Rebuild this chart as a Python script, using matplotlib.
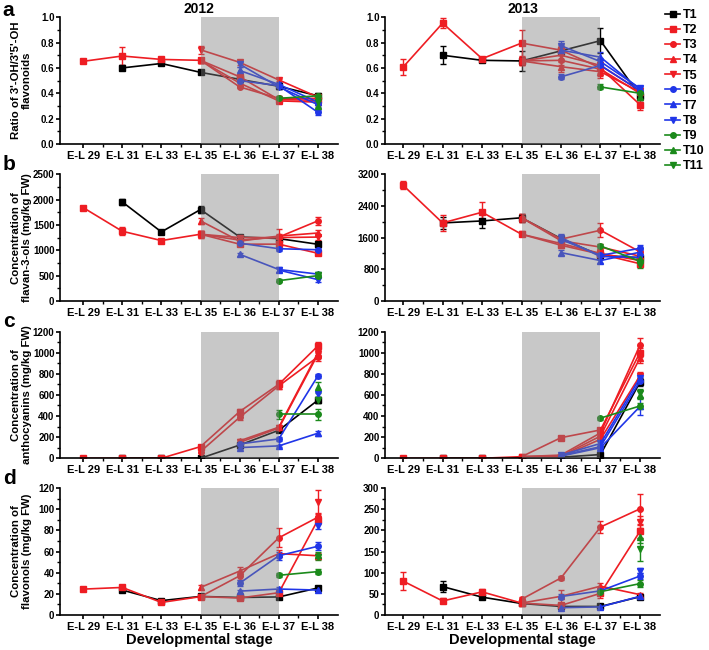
'''Flavonoid composition across developmental stages, 2012 and 2013 seasons'''

import numpy as np
import matplotlib.pyplot as plt
from matplotlib.ticker import MultipleLocator, FormatStrFormatter

plt.rcParams['font.family'] = ['Liberation Sans', 'DejaVu Sans']
plt.rcParams['font.weight'] = 'bold'

N = None
STAGES = ['E-L 29', 'E-L 31', 'E-L 33', 'E-L 35', 'E-L 36', 'E-L 37', 'E-L 38']
TREATMENTS = ['T1', 'T2', 'T3', 'T4', 'T5', 'T6', 'T7', 'T8', 'T9', 'T10', 'T11']
COLORS = ['#000000'] + ['#EE1D23'] * 4 + ['#2036E8'] * 3 + ['#1B8A1B'] * 3
MARKERS = ['s', 's', 'o', '^', 'v', 'o', '^', 'v', 'o', '^', 'v']

# a: ratio of 3'-OH / 3'5'-OH flavonoids
A_2012 = [
    [N, .60, .635, .565, .51, .455, .38],
    [.652, .694, .667, .66, .53, .35, .345],
    [N, N, N, .66, .45, .36, .36],
    [N, N, N, .66, .48, .34, .33],
    [N, N, N, .743, .644, .505, .37],
    [N, N, N, N, .50, .46, .25],
    [N, N, N, N, .58, .47, .33],
    [N, N, N, N, .63, .45, .31],
    [N, N, N, N, N, .36, .38],
    [N, N, N, N, N, N, .30],
    [N, N, N, N, N, N, .33],
]
A_2012_ERR = [
    [N, .02, .01, .01, .02, .02, .01],
    [.01, .07, .015, .02, .02, .02, .02],
    [N, N, N, .02, .01, .02, .02],
    [N, N, N, .02, .02, .02, .02],
    [N, N, N, .03, .02, .01, .02],
    [N, N, N, N, .02, .02, .02],
    [N, N, N, N, .03, .02, .02],
    [N, N, N, N, .02, .02, .02],
    [N, N, N, N, N, .02, .02],
    [N, N, N, N, N, N, .02],
    [N, N, N, N, N, N, .02],
]
A_2013 = [
    [N, .70, .66, .655, .735, .815, .38],
    [.607, .953, .673, .796, .74, .60, .31],
    [N, N, N, .655, .66, .59, .40],
    [N, N, N, .655, .61, .57, .41],
    [N, N, N, .655, .70, .62, .42],
    [N, N, N, N, .53, .62, .42],
    [N, N, N, N, .74, .685, .43],
    [N, N, N, N, .775, .65, .44],
    [N, N, N, N, N, .45, .40],
    [N, N, N, N, N, N, .37],
    [N, N, N, N, N, N, .39],
]
A_2013_ERR = [
    [N, .07, .015, .08, .03, .10, .03],
    [.06, .04, .015, .10, .03, .04, .04],
    [N, N, N, .03, .04, .05, .02],
    [N, N, N, .03, .04, .05, .02],
    [N, N, N, .03, .04, .03, .02],
    [N, N, N, N, .02, .03, .02],
    [N, N, N, N, .04, .04, .02],
    [N, N, N, N, .04, .03, .02],
    [N, N, N, N, N, .02, .02],
    [N, N, N, N, N, N, .02],
    [N, N, N, N, N, N, .02],
]

# b: flavan-3-ols (mg/kg FW)
B_2012 = [
    [N, 1954, 1362, 1803, 1263, 1230, 1118],
    [1842, 1375, 1191, 1316, 1120, 1120, 940],
    [N, N, N, 1316, 1200, 1260, 1580],
    [N, N, N, 1579, 1180, 1280, 1340],
    [N, N, N, 1316, 1250, 1250, 1260],
    [N, N, N, N, 1140, 1030, 1010],
    [N, N, N, N, 920, 620, 530],
    [N, N, N, N, N, 610, 420],
    [N, N, N, N, N, 400, 500],
    [N, N, N, N, N, N, 540],
    [N, N, N, N, N, N, 520],
]
B_2012_ERR = [
    [N, 60, 40, 60, 40, 50, 50],
    [40, 80, 40, 70, 40, 40, 40],
    [N, N, N, 70, 50, 60, 80],
    [N, N, N, 60, 50, 130, 50],
    [N, N, N, 60, 50, 60, 50],
    [N, N, N, N, 40, 50, 40],
    [N, N, N, N, 30, 50, 40],
    [N, N, N, N, N, 40, 50],
    [N, N, N, N, N, 30, 40],
    [N, N, N, N, N, N, 40],
    [N, N, N, N, N, N, 40],
]
B_2013 = [
    [N, 1970, 2020, 2100, 1575, 1150, 1090],
    [2920, 1970, 2240, 1684, 1406, 1180, 940],
    [N, N, N, 2100, 1560, 1785, 1240],
    [N, N, N, 2100, 1520, 1360, 1130],
    [N, N, N, 1684, 1450, 1200, 1020],
    [N, N, N, N, 1550, 1150, 1330],
    [N, N, N, N, 1220, 1020, 1230],
    [N, N, N, N, 1600, 1120, 1100],
    [N, N, N, N, N, 1390, 1000],
    [N, N, N, N, N, N, 1050],
    [N, N, N, N, N, N, 900],
]
B_2013_ERR = [
    [N, 150, 190, 100, 80, 80, 60],
    [100, 200, 270, 30, 60, 60, 60],
    [N, N, N, 100, 80, 180, 60],
    [N, N, N, 100, 60, 80, 60],
    [N, N, N, 40, 60, 60, 60],
    [N, N, N, N, 80, 60, 80],
    [N, N, N, N, 60, 60, 60],
    [N, N, N, N, 80, 60, 60],
    [N, N, N, N, N, 60, 80],
    [N, N, N, N, N, N, 60],
    [N, N, N, N, N, N, 80],
]

# c: anthocyanins (mg/kg FW)
C_2012 = [
    [N, 0, 0, 0, 125, 265, 550],
    [0, 0, 0, 110, 442, 700, 1064],
    [N, N, N, 63, 388, 685, 960],
    [N, N, N, N, 165, 294, 1000],
    [N, N, N, N, 150, 285, 985],
    [N, N, N, N, 136, 183, 780],
    [N, N, N, N, 101, 117, 237],
    [N, N, N, N, N, N, 610],
    [N, N, N, N, N, 415, 415],
    [N, N, N, N, N, N, 670],
    [N, N, N, N, N, N, 550],
]
C_2012_ERR = [
    [N, 0, 0, 0, 10, 15, 30],
    [0, 0, 0, 20, 25, 40, 40],
    [N, N, N, 15, 25, 25, 40],
    [N, N, N, N, 15, 20, 40],
    [N, N, N, N, 15, 20, 40],
    [N, N, N, N, 10, 15, 20],
    [N, N, N, N, 15, 10, 25],
    [N, N, N, N, N, N, 30],
    [N, N, N, N, N, 40, 50],
    [N, N, N, N, N, N, 50],
    [N, N, N, N, N, N, 30],
]
C_2013 = [
    [N, 0, 0, 5, 10, 35, 720],
    [0, 0, 0, 15, 195, 268, 1000],
    [N, N, N, 15, 30, 240, 1070],
    [N, N, N, 15, 20, 210, 950],
    [N, N, N, 15, 15, 180, 780],
    [N, N, N, N, 25, 110, 730],
    [N, N, N, N, 20, 100, 490],
    [N, N, N, N, 30, 140, 760],
    [N, N, N, N, N, 380, 495],
    [N, N, N, N, N, N, 600],
    [N, N, N, N, N, N, 620],
]
C_2013_ERR = [
    [N, 0, 0, 2, 3, 5, 40],
    [0, 0, 0, 3, 10, 20, 40],
    [N, N, N, 3, 5, 20, 70],
    [N, N, N, 3, 5, 20, 50],
    [N, N, N, 3, 5, 20, 40],
    [N, N, N, N, 5, 20, 40],
    [N, N, N, N, 5, 20, 80],
    [N, N, N, N, 5, 20, 40],
    [N, N, N, N, N, 15, 30],
    [N, N, N, N, N, N, 40],
    [N, N, N, N, N, N, 40],
]

# d: flavonols (mg/kg FW)
D_2012 = [
    [N, 23.5, 13.5, 17.5, 16.5, 17, 25.5],
    [24.4, 26, 11.8, 17.3, 16, 21, 90],
    [N, N, N, 17.3, 37, 73, 92.5],
    [N, N, N, 26, 41.5, 58, 56],
    [N, N, N, N, N, N, 107],
    [N, N, N, N, 30, 56, 65],
    [N, N, N, N, 22.5, 24.5, 23.5],
    [N, N, N, N, N, N, 84.5],
    [N, N, N, N, N, 37.5, 41],
    [N, N, N, N, N, N, 57],
    [N, N, N, N, N, N, 55],
]
D_2012_ERR = [
    [N, 1.5, 1.5, 1, 1.5, 2, 1.5],
    [2, 1, 1, 1, 2, 2, 4],
    [N, N, N, 1, 4, 9, 4],
    [N, N, N, 2, 4, 3, 3],
    [N, N, N, N, N, N, 11],
    [N, N, N, N, 3, 4, 4],
    [N, N, N, N, 1.5, 1.5, 1.5],
    [N, N, N, N, N, N, 3],
    [N, N, N, N, N, 2, 2],
    [N, N, N, N, N, N, 3],
    [N, N, N, N, N, N, 3],
]
D_2013 = [
    [N, 67, 42, 27, 20, 20, 43],
    [80, 33, 54.5, 28, 22.5, 51, 198],
    [N, N, N, 37, 87.5, 208, 251],
    [N, N, N, 28, 44, 68, 48],
    [N, N, N, N, N, N, 220],
    [N, N, N, N, 43.5, 57, 92],
    [N, N, N, N, 17, 19, 44],
    [N, N, N, N, N, N, 105],
    [N, N, N, N, N, 55, 74],
    [N, N, N, N, N, N, 185],
    [N, N, N, N, N, N, 155],
]
D_2013_ERR = [
    [N, 13, 4, 3, 3, 3, 3],
    [21, 6, 6, 4, 6, 10, 15],
    [N, N, N, 6, 5, 14, 36],
    [N, N, N, 4, 16, 8, 5],
    [N, N, N, N, N, N, 15],
    [N, N, N, N, 6, 6, 6],
    [N, N, N, N, 6, 6, 4],
    [N, N, N, N, N, N, 6],
    [N, N, N, N, N, 6, 8],
    [N, N, N, N, N, N, 15],
    [N, N, N, N, N, N, 28],
]

YLABELS = ["Ratio of 3'-OH/3'5'-OH\nflavonoids",
           'Concentration of\nflavan-3-ols (mg/kg FW)',
           'Concentration of\nanthocyanins (mg/kg FW)',
           'Concentration of\nflavonols (mg/kg FW)']


def plot_panel(ax, values, errors, ymax, ystep, fmt='%d'):
    x = np.arange(len(STAGES))
    for i, name in enumerate(TREATMENTS):
        y = np.array(values[i], dtype=float)
        e = np.array(errors[i], dtype=float)
        ax.errorbar(x, y, yerr=e, color=COLORS[i], marker=MARKERS[i],
                    markersize=4, lw=1.2, elinewidth=1, capsize=2,
                    capthick=1, label=name, zorder=2)
    ax.axvspan(3, 5, color='#808080', alpha=0.43, lw=0, zorder=3)
    ax.set_ylim(0, ymax)
    ax.yaxis.set_major_locator(MultipleLocator(ystep))
    ax.yaxis.set_minor_locator(MultipleLocator(ystep / 2))
    ax.yaxis.set_major_formatter(FormatStrFormatter(fmt))
    ax.set_xticks(x)
    ax.set_xticks(x[:-1] + 0.5, minor=True)
    ax.set_xticklabels(STAGES)
    for side in ('top', 'right'):
        ax.spines[side].set_visible(False)
    for side in ('left', 'bottom'):
        ax.spines[side].set_linewidth(1.2)
    ax.tick_params(which='major', direction='out', length=3, width=1.2)
    ax.tick_params(axis='x', labelsize=8, pad=2)
    ax.tick_params(axis='y', labelsize=7, pad=1)
    ax.tick_params(which='minor', direction='out', length=2, width=1)
    for lab in ax.get_xticklabels() + ax.get_yticklabels():
        lab.set_fontweight('bold')


def make_plot():
    fig = plt.figure(figsize=(7.09, 6.5), dpi=100)
    bottoms = [0.7785, 0.537, 0.295, 0.054]
    left_col = [A_2012, B_2012, C_2012, D_2012]
    left_err = [A_2012_ERR, B_2012_ERR, C_2012_ERR, D_2012_ERR]
    right_col = [A_2013, B_2013, C_2013, D_2013]
    right_err = [A_2013_ERR, B_2013_ERR, C_2013_ERR, D_2013_ERR]
    left_lims = [(1.0, 0.2, '%.1f'), (2500, 500, '%d'), (1200, 200, '%d'), (120, 20, '%d')]
    right_lims = [(1.0, 0.2, '%.1f'), (3200, 800, '%d'), (1200, 200, '%d'), (300, 50, '%d')]
    letters = ['a', 'b', 'c', 'd']

    axes = []
    for row in range(4):
        axl = fig.add_axes([0.0846, bottoms[row], 0.392, 0.195])
        axr = fig.add_axes([0.543, bottoms[row], 0.388, 0.195])
        plot_panel(axl, left_col[row], left_err[row], *left_lims[row])
        plot_panel(axr, right_col[row], right_err[row], *right_lims[row])
        axl.set_xlim(-0.59, 6.51)
        axr.set_xlim(-0.46, 6.51)
        axl.set_ylabel(YLABELS[row], fontsize=8.2, fontweight='bold', linespacing=1.1)
        axl.yaxis.set_label_coords(-0.1, 0.5)
        top = bottoms[row] + 0.195
        fig.text(0.004, min(top + 0.03, 0.998), letters[row], fontsize=15,
                 fontweight='bold', va='top', ha='left')
        axes.append((axl, axr))

    axes[0][0].set_title('2012', fontsize=10, fontweight='bold', pad=3)
    axes[0][1].set_title('2013', fontsize=10, fontweight='bold', pad=3)
    axes[3][0].set_xlabel('Developmental stage', fontsize=10.5, fontweight='bold', labelpad=1)
    axes[3][1].set_xlabel('Developmental stage', fontsize=10.5, fontweight='bold', labelpad=1)

    handles, labels = axes[0][0].get_legend_handles_labels()
    handles = [h[0] for h in handles]
    fig.legend(handles, labels, loc='upper left', bbox_to_anchor=(0.938, 0.986),
               frameon=False, handlelength=1.2, handletextpad=0.2,
               labelspacing=0.25, borderpad=0, borderaxespad=0,
               prop={'weight': 'bold', 'size': 9})

    fig.savefig('out.png', dpi=100)


if __name__ == '__main__':
    make_plot()
